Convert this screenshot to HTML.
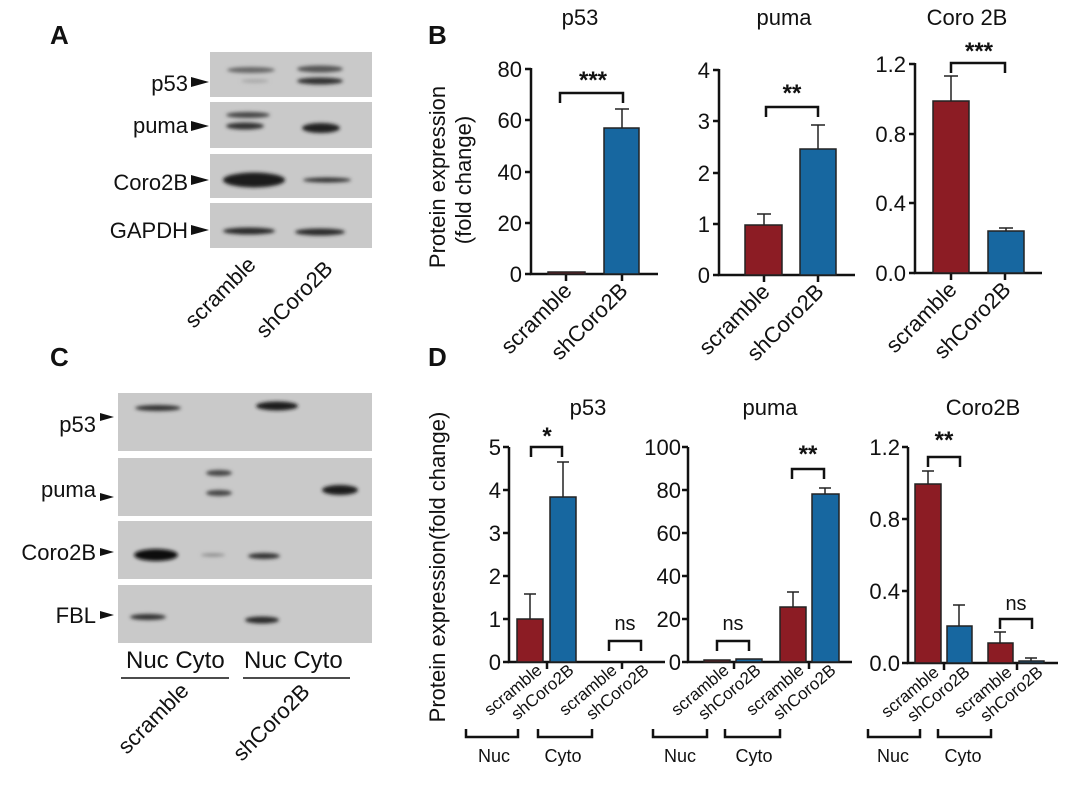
<!DOCTYPE html>
<html><head><meta charset="utf-8"><style>
html,body{margin:0;padding:0;background:#fff}
svg{display:block;font-family:"Liberation Sans",Arial,sans-serif}
</style></head><body>
<svg width="1080" height="792" viewBox="0 0 1080 792" xmlns="http://www.w3.org/2000/svg">
<defs>
<filter id="bl" x="-30%" y="-100%" width="160%" height="300%"><feGaussianBlur stdDeviation="1.8"/></filter>
</defs>
<rect width="1080" height="792" fill="#fff"/>
<g font-weight="bold" font-size="26" fill="#111">
<text x="50" y="44">A</text><text x="428" y="44">B</text>
<text x="50" y="366">C</text><text x="428" y="366">D</text>
</g>

<!-- Panel A blots -->
<g fill="#c9c9c9">
<rect x="210" y="52" width="162" height="45"/>
<rect x="210" y="102" width="162" height="46"/>
<rect x="210" y="154" width="162" height="44"/>
<rect x="210" y="203" width="162" height="45"/>
</g>
<g filter="url(#bl)">
<ellipse cx="251" cy="70" rx="24" ry="3" fill="#666"/>
<ellipse cx="320" cy="69" rx="23" ry="3.5" fill="#555"/>
<ellipse cx="320" cy="81" rx="23" ry="3.5" fill="#333"/>
<ellipse cx="255" cy="81" rx="14" ry="2" fill="#aaa"/>
<ellipse cx="248" cy="115" rx="22" ry="3" fill="#444"/>
<ellipse cx="245" cy="126" rx="19" ry="3.5" fill="#333"/>
<ellipse cx="321" cy="128" rx="19" ry="5" fill="#222"/>
<ellipse cx="254" cy="180" rx="31" ry="7.5" fill="#1a1a1a"/>
<ellipse cx="327" cy="180" rx="24" ry="2.5" fill="#333"/>
<ellipse cx="249" cy="231" rx="26" ry="3.5" fill="#2a2a2a"/>
<ellipse cx="320" cy="232" rx="25" ry="3.5" fill="#2a2a2a"/>
</g>
<g font-size="22" fill="#111" text-anchor="end">
<text x="188" y="91">p53</text>
<text x="188" y="133">puma</text>
<text x="188" y="190">Coro2B</text>
<text x="188" y="238">GAPDH</text>
</g>
<g fill="#111">
<polygon points="191,77 209,82 191,87"/>
<polygon points="191,121 209,126 191,131"/>
<polygon points="191,175 209,180 191,185"/>
<polygon points="191,225 209,230 191,235"/>
</g>
<g font-size="22" fill="#111" text-anchor="end">
<text transform="translate(257,266) rotate(-45)">scramble</text>
<text transform="translate(334,270) rotate(-45)">shCoro2B</text>
</g>

<!-- Panel C blots -->
<g fill="#c9c9c9">
<rect x="118" y="393" width="254" height="58"/>
<rect x="118" y="458" width="254" height="58"/>
<rect x="118" y="521" width="254" height="58"/>
<rect x="118" y="585" width="254" height="58"/>
</g>
<g filter="url(#bl)">
<ellipse cx="158" cy="408" rx="23" ry="3" fill="#333"/>
<ellipse cx="277" cy="406" rx="21" ry="4.5" fill="#1a1a1a"/>
<ellipse cx="219" cy="473" rx="13" ry="3" fill="#444"/>
<ellipse cx="219" cy="493" rx="13" ry="3" fill="#444"/>
<ellipse cx="340" cy="490" rx="18" ry="5" fill="#1a1a1a"/>
<ellipse cx="156" cy="555" rx="22" ry="6" fill="#111"/>
<ellipse cx="213" cy="555" rx="12" ry="1.5" fill="#888"/>
<ellipse cx="264" cy="556" rx="16" ry="3" fill="#333"/>
<ellipse cx="148" cy="617" rx="18" ry="3" fill="#333"/>
<ellipse cx="262" cy="620" rx="17" ry="3.5" fill="#2a2a2a"/>
</g>
<g font-size="22" fill="#111" text-anchor="end">
<text x="96" y="432">p53</text>
<text x="96" y="497">puma</text>
<text x="96" y="560">Coro2B</text>
<text x="96" y="623">FBL</text>
</g>
<g fill="#111">
<polygon points="100,413 114,417 100,421"/>
<polygon points="100,493 114,497 100,501"/>
<polygon points="100,548 114,552 100,556"/>
<polygon points="100,611 114,615 100,619"/>
</g>
<g font-size="24" fill="#111">
<text x="126" y="668">Nuc Cyto</text>
<text x="244" y="668">Nuc Cyto</text>
</g>
<g stroke="#111" stroke-width="1.5">
<line x1="121" y1="678" x2="229" y2="678"/><line x1="243" y1="678" x2="350" y2="678"/>
</g>
<g font-size="22" fill="#111" text-anchor="end">
<text transform="translate(190,692) rotate(-45)">scramble</text>
<text transform="translate(311,693) rotate(-45)">shCoro2B</text>
</g>

<!-- Panel B -->
<g font-size="22" fill="#111" text-anchor="middle">
<text transform="translate(445,177) rotate(-90)">Protein expression</text>
<text transform="translate(471,180) rotate(-90)">(fold change)</text>
<text x="580" y="25">p53</text><text x="784" y="25">puma</text><text x="967" y="25">Coro 2B</text>
</g>
<g stroke="#111" stroke-width="2.5" fill="none">
<path d="M531,68 V274 H658"/>
<path d="M525,69H531M525,120H531M525,172H531M525,223H531M525,274H531M566,274V281M622,274V281"/>
<path d="M719,69 V275 H855"/>
<path d="M713,70H719M713,121H719M713,173H719M713,224H719M713,275H719M764,275V282M818,275V282"/>
<path d="M915,63 V273 H1042"/>
<path d="M909,64H915M909,134H915M909,203H915M909,273H915M951,273V280M1005,273V280"/>
</g>
<g stroke="#222" stroke-width="1.5">
<rect x="548" y="272" width="37" height="2" fill="#8c1c24"/>
<rect x="604" y="128" width="35" height="146" fill="#1767a0"/>
<rect x="745" y="225" width="37" height="50" fill="#8c1c24"/>
<rect x="800" y="149" width="36" height="126" fill="#1767a0"/>
<rect x="933" y="101" width="36" height="172" fill="#8c1c24"/>
<rect x="988" y="231" width="36" height="42" fill="#1767a0"/>
</g>
<g stroke="#222" stroke-width="1.5" fill="none">
<path d="M622,128V109M615,109H629"/>
<path d="M764,225V214M757,214H771M818,149V125M811,125H825"/>
<path d="M951,101V76M944,76H958M1006,231V228M999,228H1013"/>
</g>
<g stroke="#111" stroke-width="2.5" fill="none">
<path d="M560,103V93H623V103"/>
<path d="M766,117V107H818V117"/>
<path d="M951,73V63H1005V73"/>
</g>
<g font-size="24" font-weight="bold" fill="#111" text-anchor="middle">
<text x="593" y="88">***</text><text x="792" y="101">**</text><text x="979" y="59">***</text>
</g>
<g font-size="22" fill="#111" text-anchor="end">
<text x="522" y="77">80</text><text x="522" y="128">60</text><text x="522" y="180">40</text><text x="522" y="231">20</text><text x="522" y="282">0</text>
<text x="710" y="78">4</text><text x="710" y="129">3</text><text x="710" y="181">2</text><text x="710" y="232">1</text><text x="710" y="283">0</text>
<text x="906" y="72">1.2</text><text x="906" y="142">0.8</text><text x="906" y="211">0.4</text><text x="906" y="281">0.0</text>
<text transform="translate(573,292) rotate(-45)">scramble</text>
<text transform="translate(629,292) rotate(-45)">shCoro2B</text>
<text transform="translate(771,293) rotate(-45)">scramble</text>
<text transform="translate(825,293) rotate(-45)">shCoro2B</text>
<text transform="translate(958,291) rotate(-45)">scramble</text>
<text transform="translate(1012,291) rotate(-45)">shCoro2B</text>
</g>

<!-- Panel D -->
<g font-size="22" fill="#111" text-anchor="middle">
<text transform="translate(445,567) rotate(-90)">Protein expression(fold change)</text>
<text x="588" y="415">p53</text><text x="770" y="415">puma</text><text x="983" y="415">Coro2B</text>
</g>
<g stroke="#111" stroke-width="2.5" fill="none">
<path d="M509,447V662H665"/>
<path d="M503,447H509M503,490H509M503,533H509M503,576H509M503,619H509M503,662H509M547,662V669M622,662V669"/>
<path d="M688,447V662H852"/>
<path d="M682,447H688M682,490H688M682,533H688M682,576H688M682,619H688M682,662H688M734,662V669M809,662V669"/>
<path d="M908,447V663H1058"/>
<path d="M902,447H908M902,519H908M902,591H908M902,663H908M944,663V670M1017,663V670"/>
</g>
<g stroke="#222" stroke-width="1.5">
<rect x="517" y="619" width="26" height="43" fill="#8c1c24"/>
<rect x="550" y="497" width="26" height="165" fill="#1767a0"/>
<rect x="704" y="660" width="26" height="2" fill="#8c1c24"/>
<rect x="736" y="659" width="26" height="3" fill="#1767a0"/>
<rect x="780" y="607" width="26" height="55" fill="#8c1c24"/>
<rect x="812" y="494" width="27" height="168" fill="#1767a0"/>
<rect x="915" y="484" width="26" height="179" fill="#8c1c24"/>
<rect x="947" y="626" width="25" height="37" fill="#1767a0"/>
<rect x="988" y="643" width="25" height="20" fill="#8c1c24"/>
<rect x="1019" y="661" width="25" height="2" fill="#1767a0"/>
</g>
<g stroke="#222" stroke-width="1.5" fill="none">
<path d="M530,619V594M524,594H536M563,497V462M557,462H569"/>
<path d="M793,607V592M787,592H799M825,494V488M819,488H831"/>
<path d="M928,484V471M922,471H934M959,626V605M953,605H965M1000,643V632M994,632H1006M1031,661V658M1025,658H1037"/>
</g>
<g stroke="#111" stroke-width="2.5" fill="none">
<path d="M531,457V447H562V457"/>
<path d="M609,651V641H641V651"/>
<path d="M717,651V641H749V651"/>
<path d="M792,479V469H824V479"/>
<path d="M928,467V457H960V467"/>
<path d="M1000,629V619H1032V629"/>
</g>
<g font-size="24" font-weight="bold" fill="#111" text-anchor="middle">
<text x="547" y="444">*</text><text x="808" y="462">**</text><text x="944" y="448">**</text>
</g>
<g font-size="20" fill="#111" text-anchor="middle">
<text x="625" y="630">ns</text><text x="733" y="630">ns</text><text x="1016" y="610">ns</text>
</g>
<g font-size="22" fill="#111" text-anchor="end">
<text x="501" y="455">5</text><text x="501" y="498">4</text><text x="501" y="541">3</text><text x="501" y="584">2</text><text x="501" y="627">1</text><text x="501" y="670">0</text>
<text x="681" y="455">100</text><text x="681" y="498">80</text><text x="681" y="541">60</text><text x="681" y="584">40</text><text x="681" y="627">20</text><text x="681" y="670">0</text>
<text x="900" y="455">1.2</text><text x="900" y="527">0.8</text><text x="900" y="599">0.4</text><text x="900" y="671">0.0</text>
</g>
<g font-size="17" fill="#111" text-anchor="end">
<text transform="translate(543,672) rotate(-40)">scramble</text>
<text transform="translate(575,672) rotate(-40)">shCoro2B</text>
<text transform="translate(618,672) rotate(-40)">scramble</text>
<text transform="translate(650,672) rotate(-40)">shCoro2B</text>
<text transform="translate(730,672) rotate(-40)">scramble</text>
<text transform="translate(762,672) rotate(-40)">shCoro2B</text>
<text transform="translate(805,672) rotate(-40)">scramble</text>
<text transform="translate(837,672) rotate(-40)">shCoro2B</text>
<text transform="translate(940,674) rotate(-40)">scramble</text>
<text transform="translate(971,674) rotate(-40)">shCoro2B</text>
<text transform="translate(1013,674) rotate(-40)">scramble</text>
<text transform="translate(1044,674) rotate(-40)">shCoro2B</text>
</g>
<g stroke="#111" stroke-width="2.5" fill="none">
<path d="M466,729V737H518V729M538,729V737H592V729"/>
<path d="M653,729V737H707V729M725,729V737H780V729"/>
<path d="M868,729V737H920V729M938,729V737H991V729"/>
</g>
<g font-size="18" fill="#111" text-anchor="middle">
<text x="494" y="762">Nuc</text><text x="563" y="762">Cyto</text>
<text x="680" y="762">Nuc</text><text x="754" y="762">Cyto</text>
<text x="893" y="762">Nuc</text><text x="963" y="762">Cyto</text>
</g>
</svg>
</body></html>
